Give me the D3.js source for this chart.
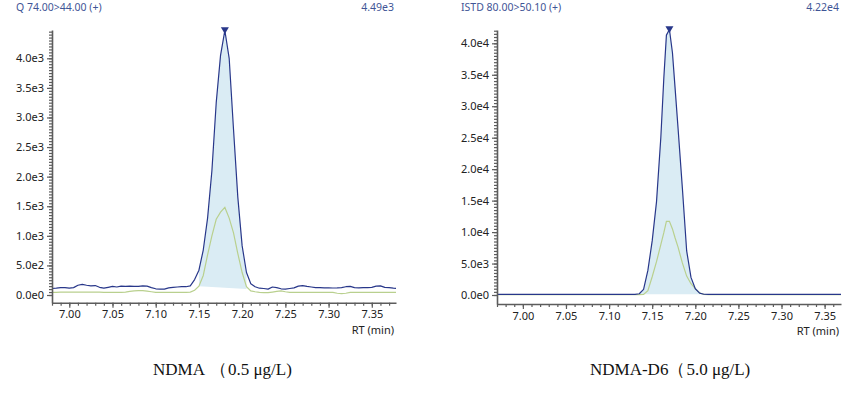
<!DOCTYPE html>
<html>
<head>
<meta charset="utf-8">
<script src="https://cdn.jsdelivr.net/npm/d3@7"></script>
<style>
  body { margin: 0; background: #fff; }
  svg { display: block; }
  .tick text { font-family: "Segoe UI", "Noto Sans", sans-serif; font-size: 11px; fill: #222; }
</style>
</head>
<body>
<div id="wrapper"></div>
<script>
// ---- data ----
const leftRT = [6.980, 6.985, 6.990, 6.995, 7.000, 7.005, 7.010, 7.015, 7.020, 7.025,
    7.030, 7.035, 7.040, 7.045, 7.050, 7.055, 7.060, 7.065, 7.070, 7.075,
    7.080, 7.085, 7.090, 7.095, 7.100, 7.105, 7.110, 7.115, 7.120, 7.125,
    7.130, 7.135, 7.140, 7.145, 7.150, 7.155, 7.160, 7.165, 7.170, 7.175,
    7.180, 7.185, 7.190, 7.195, 7.200, 7.205, 7.210, 7.215, 7.220, 7.225,
    7.230, 7.235, 7.240, 7.245, 7.250, 7.255, 7.260, 7.265, 7.270, 7.275,
    7.280, 7.285, 7.290, 7.295, 7.300, 7.305, 7.310, 7.315, 7.320, 7.325,
    7.330, 7.335, 7.340, 7.345, 7.350, 7.355, 7.360, 7.365, 7.370, 7.375, 7.380];
const ndmaQuant = [110, 115, 125, 125, 115, 125, 165, 180, 165, 155,
    160, 130, 115, 130, 145, 135, 150, 145, 150, 145,
    145, 155, 150, 125, 105, 100, 100, 120, 130, 135,
    140, 140, 155, 260, 420, 760, 1300, 2100, 3250, 4050,
    4470, 4000, 2800, 1650, 830, 380, 190, 140, 115, 110,
    100, 135, 125, 105, 100, 110, 120, 150, 160, 145,
    135, 125, 125, 120, 120, 118, 120, 125, 140, 145,
    125, 120, 125, 125, 130, 150, 155, 130, 125, 115, 110];
const ndmaQual = [45, 45, 50, 50, 50, 50, 50, 50, 50, 50,
    50, 50, 45, 45, 45, 45, 45, 50, 60, 70,
    75, 75, 65, 55, 45, 45, 45, 45, 45, 45,
    45, 45, 50, 80, 150, 330, 680, 1000, 1280, 1400,
    1480, 1300, 1050, 700, 380, 140, 70, 55, 45, 40,
    40, 50, 60, 70, 55, 45, 45, 45, 45, 45,
    45, 45, 45, 45, 45, 45, 30, 25, 30, 45,
    45, 45, 45, 45, 45, 45, 45, 45, 45, 45, 45];
const ndmaPeakRange = [7.150, 7.205];
const ndmaBaseline = [150, 100];

const rightRT = [6.970, 7.000, 7.050, 7.100, 7.125, 7.130, 7.135, 7.140, 7.145, 7.150,
    7.155, 7.160, 7.1635, 7.1665, 7.170, 7.1735, 7.1765, 7.180, 7.185, 7.190,
    7.195, 7.200, 7.205, 7.210, 7.215, 7.250, 7.300, 7.350, 7.370];
const d6Quant = [100, 100, 100, 100, 100, 100, 200, 900, 3900, 8600,
    14800, 25000, 34500, 41300, 42200, 38500, 33000, 26500, 17000, 7000,
    2800, 1000, 300, 120, 100, 100, 100, 100, 100];
const d6Qual = [50, 50, 50, 50, 50, 50, 50, 80, 700, 2900,
    5300, 8000, 9900, 11700, 11700, 10500, 9100, 7600, 5100, 3000,
    1800, 1000, 350, 80, 50, 50, 50, 50, 50];
const d6PeakRange = [7.135, 7.210];
const d6Baseline = [100, 100];

const xTickValues = [7.00, 7.05, 7.10, 7.15, 7.20, 7.25, 7.30, 7.35];
const leftYTicks = [0, 500, 1000, 1500, 2000, 2500, 3000, 3500, 4000];
const leftYLabels = ["0.0e0", "5.0e2", "1.0e3", "1.5e3", "2.0e3", "2.5e3", "3.0e3", "3.5e3", "4.0e3"];
const rightYTicks = [0, 5000, 10000, 15000, 20000, 25000, 30000, 35000, 40000];
const rightYLabels = ["0.0e0", "5.0e3", "1.0e4", "1.5e4", "2.0e4", "2.5e4", "3.0e4", "3.5e4", "4.0e4"];

const headers = ["Q 74.00>44.00 (+)", "ISTD 80.00>50.10 (+)"];
const maxLabels = ["4.49e3", "4.22e4"];
const captionNames = ["NDMA", "NDMA-D6"];
const captionConc = ["0.5 \u03BCg/L)", "5.0 \u03BCg/L)"];

// ---- drawing ----
const width = 864, height = 396;
const svg = d3.select("#wrapper").append("svg")
    .attr("width", width)
    .attr("height", height);

const navy = "#28378a";
const fillBlue = "#daecf4";
const green = "#b9d08e";
const sans = '"Segoe UI", "Noto Sans", sans-serif';

function drawPanel(p) {
    const x = d3.scaleLinear().domain(p.xDomain).range([p.left, p.right]);
    const y = d3.scaleLinear().domain(p.yDomain).range([p.bottom, p.top]);
    const g = svg.append("g");

    const clipId = "clip" + p.id;
    svg.append("clipPath").attr("id", clipId)
        .append("rect")
        .attr("x", p.left).attr("y", p.top - 6)
        .attr("width", p.right - p.left).attr("height", p.bottom - p.top + 6);

    const pts = p.rt.map((t, i) => ({ t: t, q: p.quant[i], r: p.qual[i] }));

    // integrated area between trace and drawn baseline
    const base = d3.scaleLinear().domain(p.range).range(p.baseline);
    const inPeak = pts.filter(d => d.t >= p.range[0] - 1e-9 && d.t <= p.range[1] + 1e-9);
    const area = d3.area()
        .x(d => x(d.t))
        .y0(d => y(base(d.t)))
        .y1(d => y(d.q));
    const plot = g.append("g").attr("clip-path", `url(#${clipId})`);
    plot.append("path")
        .datum(inPeak)
        .attr("d", area)
        .attr("fill", fillBlue)
        .attr("stroke", "none");

    const line = key => d3.line().x(d => x(d.t)).y(d => y(d[key]));
    plot.append("path")
        .datum(pts)
        .attr("d", line("r"))
        .attr("fill", "none")
        .attr("stroke", green)
        .attr("stroke-width", 1.2);
    plot.append("path")
        .datum(pts)
        .attr("d", line("q"))
        .attr("fill", "none")
        .attr("stroke", navy)
        .attr("stroke-width", 1.2)
        .attr("stroke-linejoin", "round");

    // apex marker
    const apex = d3.greatest(pts, d => d.q);
    g.append("path")
        .attr("d", d3.symbol().type(d3.symbolTriangle).size(28))
        .attr("transform", `translate(${x(apex.t)},${y(apex.q) - 1}) rotate(180)`)
        .attr("fill", navy);

    // axes
    const xMinor = d3.range(Math.ceil(p.xDomain[0] * 100), Math.floor(p.xDomain[1] * 100) + 1)
        .map(v => v / 100);
    const yMinor = d3.range(0, p.yDomain[1], p.yMinorStep);

    const axisColor = "#5c5c5c";
    g.append("g")
        .attr("transform", `translate(0,${p.bottom})`)
        .call(d3.axisBottom(x).tickValues(xMinor).tickSize(3).tickSizeOuter(0).tickFormat(""));
    const xAxis = g.append("g")
        .attr("transform", `translate(0,${p.bottom})`)
        .call(d3.axisBottom(x).tickValues(xTickValues).tickSize(5).tickSizeOuter(0)
            .tickPadding(3).tickFormat(d3.format(".2f")));
    xAxis.select(".domain").remove();

    g.append("g")
        .attr("transform", `translate(${p.left},0)`)
        .call(d3.axisLeft(y).tickValues(yMinor).tickSize(3).tickSizeOuter(0).tickFormat(""));
    const yAxis = g.append("g")
        .attr("transform", `translate(${p.left},0)`)
        .call(d3.axisLeft(y).tickValues(p.yTicks).tickSize(5).tickSizeOuter(0)
            .tickPadding(3).tickFormat((d, i) => p.yLabels[i]));
    yAxis.select(".domain").remove();

    g.selectAll(".domain").attr("stroke", axisColor).attr("stroke-width", 1.6);
    g.selectAll(".tick line").attr("stroke", axisColor).attr("stroke-width", 1.2);

    g.append("text")
        .attr("x", p.right - 2)
        .attr("y", p.bottom + 31)
        .attr("text-anchor", "end")
        .style("font-family", sans)
        .style("font-size", "11px")
        .attr("fill", "#222")
        .text("RT (min)");

    // header line
    g.append("text")
        .attr("x", p.headerX)
        .attr("y", 11)
        .style("font-family", sans)
        .style("font-size", "10.5px")
        .attr("fill", "#3f5596")
        .text(p.header);
    g.append("text")
        .attr("x", p.right - 2)
        .attr("y", 11)
        .attr("text-anchor", "end")
        .style("font-family", sans)
        .style("font-size", "10.5px")
        .attr("fill", "#3f5596")
        .text(p.maxLabel);

    // caption
    const cap = g.append("text")
        .attr("x", p.captionX)
        .attr("y", 375)
        .style("font-family", '"Liberation Serif", "Times New Roman", serif')
        .style("font-size", "17px")
        .attr("fill", "#111");
    cap.append("tspan").text(p.captionName);
    cap.append("tspan").attr("dx", p.parenGap).text("\uFF08");
    cap.append("tspan").attr("dx", 1).text(p.captionConc);
}

drawPanel({
    id: "L", left: 52, right: 396, top: 30, bottom: 302.7,
    xDomain: [6.98, 7.378], yDomain: [-130, 4478], yMinorStep: 50,
    rt: leftRT, quant: ndmaQuant, qual: ndmaQual,
    range: ndmaPeakRange, baseline: ndmaBaseline,
    yTicks: leftYTicks, yLabels: leftYLabels,
    header: headers[0], headerX: 16, maxLabel: maxLabels[0],
    captionName: captionNames[0], captionConc: captionConc[0], captionX: 153, parenGap: 5
});

drawPanel({
    id: "R", left: 497, right: 841, top: 30, bottom: 304,
    xDomain: [6.97, 7.369], yDomain: [-1430, 42114], yMinorStep: 500,
    rt: rightRT, quant: d6Quant, qual: d6Qual,
    range: d6PeakRange, baseline: d6Baseline,
    yTicks: rightYTicks, yLabels: rightYLabels,
    header: headers[1], headerX: 461, maxLabel: maxLabels[1],
    captionName: captionNames[1], captionConc: captionConc[1], captionX: 590, parenGap: 0
});
</script>
</body>
</html>
